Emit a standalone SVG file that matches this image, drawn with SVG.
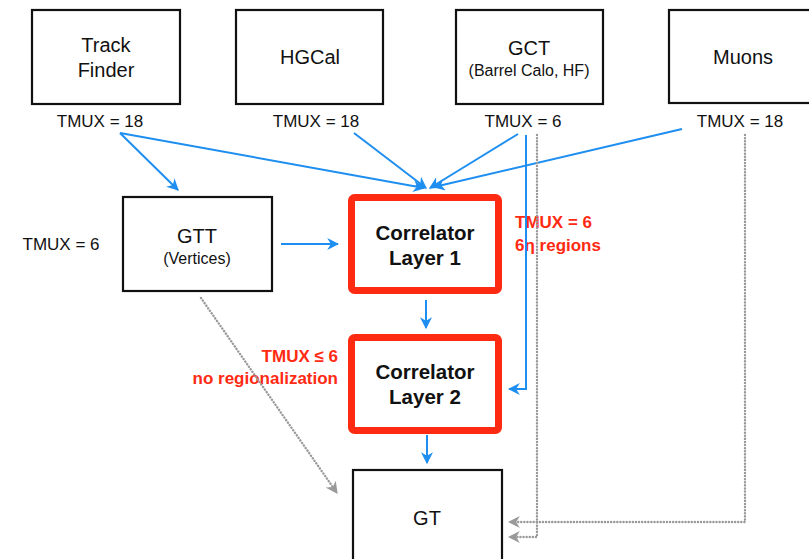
<svg xmlns="http://www.w3.org/2000/svg" width="809" height="559" viewBox="0 0 809 559">
  <style>
    .box { fill: #fff; stroke: #111; stroke-width: 2.2; }
    .corr { fill: #fff; stroke: #ff2a12; stroke-width: 7; }
    .name { font-family: "Liberation Sans", Arial, sans-serif; font-size: 20px; fill: #111; text-anchor: middle; }
    .sub { font-family: "Liberation Sans", Arial, sans-serif; font-size: 16px; fill: #111; text-anchor: middle; }
    .bold { font-family: "Liberation Sans", Arial, sans-serif; font-size: 20.5px; font-weight: bold; fill: #111; text-anchor: middle; }
    .tmux { font-family: "Liberation Sans", Arial, sans-serif; font-size: 17px; fill: #111; text-anchor: middle; }
    .note { font-family: "Liberation Sans", Arial, sans-serif; font-size: 17px; font-weight: bold; fill: #ff2a12; }
    .flow { fill: none; stroke: #1e8ff0; stroke-width: 2; marker-end: url(#blue); }
    .aux { fill: none; stroke: #999; stroke-width: 2.4; stroke-dasharray: 0.1 3; stroke-linecap: round; marker-end: url(#grey); }
  </style>
  <defs>
    <marker id="blue" viewBox="0 0 10 10" refX="9" refY="5" markerWidth="6" markerHeight="6" orient="auto" markerUnits="strokeWidth">
      <path d="M0,0 L10,5 L0,10 L3,5 z" fill="#1e8ff0"/>
    </marker>
    <marker id="grey" viewBox="0 0 10 10" refX="9" refY="5" markerWidth="5" markerHeight="5" orient="auto" markerUnits="strokeWidth">
      <path d="M0,0 L10,5 L0,10 L3,5 z" fill="#999"/>
    </marker>
  </defs>

  <!-- sources -->
  <g id="track-finder">
    <rect class="box" x="32" y="10" width="148" height="94"/>
    <text class="name" x="106" y="52">Track</text>
    <text class="name" x="106" y="77">Finder</text>
    <text class="tmux" x="100" y="127">TMUX = 18</text>
  </g>
  <g id="hgcal">
    <rect class="box" x="236" y="10" width="147" height="94"/>
    <text class="name" x="310" y="64">HGCal</text>
    <text class="tmux" x="316" y="127">TMUX = 18</text>
  </g>
  <g id="gct">
    <rect class="box" x="456" y="10" width="147" height="94"/>
    <text class="name" x="529" y="55">GCT</text>
    <text class="sub" x="529" y="76">(Barrel Calo, HF)</text>
    <text class="tmux" x="523" y="127">TMUX = 6</text>
  </g>
  <g id="muons">
    <rect class="box" x="669" y="10" width="160" height="93"/>
    <text class="name" x="743" y="64">Muons</text>
    <text class="tmux" x="740" y="127">TMUX = 18</text>
  </g>

  <!-- processing -->
  <g id="gtt">
    <rect class="box" x="123" y="197" width="149" height="94"/>
    <text class="name" x="197" y="243">GTT</text>
    <text class="sub" x="197" y="264">(Vertices)</text>
    <text class="tmux" x="61" y="250">TMUX = 6</text>
  </g>
  <g id="correlator-layer-1">
    <rect class="corr" x="351.5" y="197.5" width="147" height="93" rx="3"/>
    <text class="bold" x="425" y="240">Correlator</text>
    <text class="bold" x="425" y="265">Layer 1</text>
    <text class="note" x="515" y="228">TMUX = 6</text>
    <text class="note" x="515" y="251">6η regions</text>
  </g>
  <g id="correlator-layer-2">
    <rect class="corr" x="351.5" y="337.5" width="147" height="93" rx="3"/>
    <text class="bold" x="425" y="379">Correlator</text>
    <text class="bold" x="425" y="404">Layer 2</text>
    <text class="note" x="338" y="362" text-anchor="end">TMUX ≤ 6</text>
    <text class="note" x="338" y="384" text-anchor="end">no regionalization</text>
  </g>
  <g id="gt">
    <rect class="box" x="353" y="470" width="149" height="100"/>
    <text class="name" x="427" y="525">GT</text>
  </g>

  <!-- connectors -->
  <g id="connectors">
    <path class="flow" d="M120,133 L178,190"/>
    <path class="flow" d="M120,133 L424,188"/>
    <path class="flow" d="M354,133 L426,188"/>
    <path class="flow" d="M518,134 L430,188"/>
    <path class="flow" d="M682,129 L434,187"/>
    <path class="flow" d="M281,244 L338,244"/>
    <path class="flow" d="M426,300 L426,328"/>
    <path class="flow" d="M526,135 L526,389 L509,389"/>
    <path class="flow" d="M427,435 L427,463"/>
    <path class="aux" d="M201,298 L337,493"/>
    <path class="aux" d="M537,135 L537,537 L509,537"/>
    <path class="aux" d="M745,135 L745,522 L509,522"/>
  </g>
</svg>
